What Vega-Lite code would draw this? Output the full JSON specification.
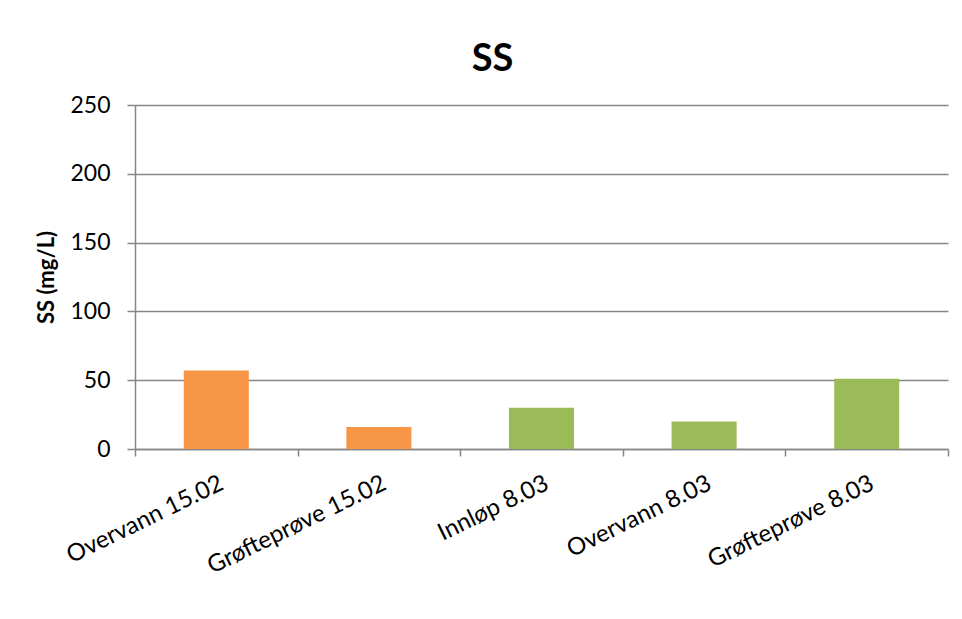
{
  "$schema": "https://vega.github.io/schema/vega-lite/v6.json",
  "autosize": {"type": "none"},
  "padding": {"left": 135, "top": 105, "right": 14, "bottom": 170},
  "width": 813,
  "height": 344,
  "background": "white",
  "title": {
    "text": "SS",
    "font": "Lato",
    "fontSize": 38,
    "fontWeight": "bold",
    "color": "#000000",
    "anchor": "middle",
    "dx": -49,
    "dy": 45,
    "baseline": "alphabetic",
    "offset": 30
  },
  "data": {
    "values": [
      {"sample": "Overvann 15.02", "ss": 57, "campaign": "15.02"},
      {"sample": "Grøfteprøve 15.02", "ss": 16, "campaign": "15.02"},
      {"sample": "Innløp 8.03", "ss": 30, "campaign": "8.03"},
      {"sample": "Overvann 8.03", "ss": 20, "campaign": "8.03"},
      {"sample": "Grøfteprøve 8.03", "ss": 51, "campaign": "8.03"}
    ]
  },
  "mark": {"type": "bar", "width": {"band": 0.4}},
  "encoding": {
    "x": {
      "field": "sample",
      "type": "nominal",
      "sort": null,
      "scale": {"paddingInner": 0, "paddingOuter": 0},
      "axis": {
        "title": null,
        "tickBand": "extent",
        "labelAngle": -26,
        "labelAlign": "right",
        "labelBaseline": "top",
        "labelPadding": 15,
        "labelLimit": 0,
        "labelFont": "Lato",
        "labelFontSize": 24,
        "labelColor": "#000000",
        "tickSize": 7,
        "tickColor": "#868686",
        "tickWidth": 1.5,
        "domainColor": "#868686",
        "domainWidth": 1.5,
        "grid": false
      }
    },
    "y": {
      "field": "ss",
      "type": "quantitative",
      "scale": {"domain": [0, 250], "nice": false},
      "axis": {
        "title": "SS (mg/L)",
        "titleFont": "Lato",
        "titleFontSize": 22,
        "titleFontWeight": "bold",
        "titleColor": "#000000",
        "titlePadding": 11,
        "values": [0, 50, 100, 150, 200, 250],
        "labelFont": "Lato",
        "labelFontSize": 23,
        "labelColor": "#000000",
        "labelPadding": 17,
        "tickSize": 8,
        "tickColor": "#868686",
        "tickWidth": 1.5,
        "domainColor": "#868686",
        "domainWidth": 1.5,
        "gridColor": "#868686",
        "gridWidth": 1.5
      }
    },
    "color": {
      "field": "campaign",
      "type": "nominal",
      "scale": {"domain": ["15.02", "8.03"], "range": ["#F79646", "#9BBB59"]},
      "legend": null
    }
  },
  "config": {"view": {"stroke": null}}
}
